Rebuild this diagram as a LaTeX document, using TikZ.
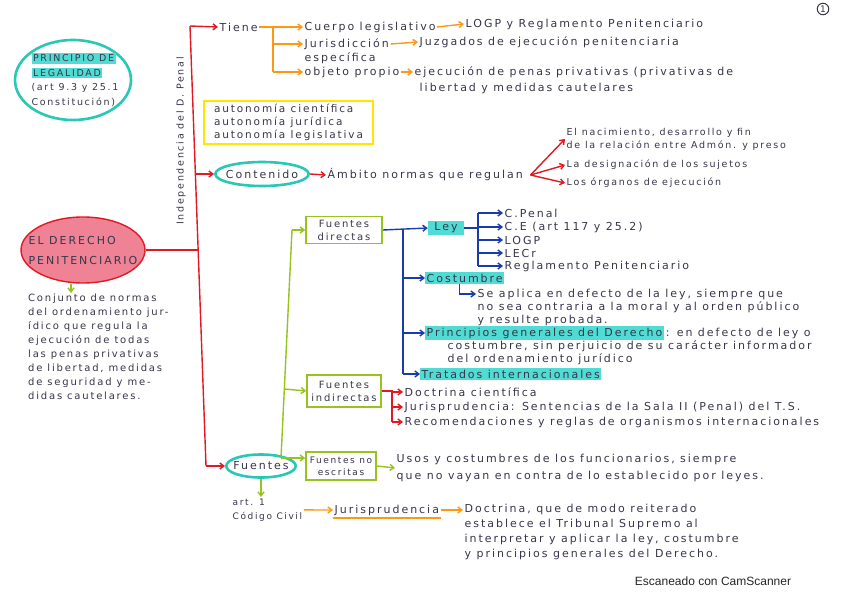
\documentclass[tikz,border=0pt]{standalone}
\usepackage{fontspec}
\usetikzlibrary{arrows.meta,shapes.geometric}
\newfontfamily\hwfont{DejaVu Sans}[LetterSpace=18]
\newfontfamily\scanfont{Liberation Sans}
\definecolor{redC}{RGB}{225,25,35}
\definecolor{pinkC}{RGB}{240,130,150}
\definecolor{orC}{RGB}{255,150,20}
\definecolor{tealC}{RGB}{40,200,180}
\definecolor{hlC}{RGB}{80,220,212}
\definecolor{yelC}{RGB}{255,230,0}
\definecolor{grC}{RGB}{150,195,30}
\definecolor{blC}{RGB}{25,60,170}
\definecolor{txC}{RGB}{55,55,75}
\setlength{\fboxsep}{1.5pt}
\tikzset{
  hw/.style={font=\hwfont\fontsize{11}{14}\selectfont, text=txC, inner sep=1.5pt, align=left},
  hws/.style={font=\hwfont\fontsize{9.5}{13}\selectfont, text=txC, inner sep=1.5pt, align=left},
  hwb/.style={font=\hwfont\fontsize{10}{13}\selectfont, text=txC, inner sep=1.5pt, align=center},
  hl/.style={fill=hlC},
  myarr/.style={-{Straight Barb[length=4pt,width=6pt]}},
  rl/.style={draw=redC, line width=1.4pt},
  ra/.style={rl, myarr},
  ol/.style={draw=orC, line width=1.4pt},
  oa/.style={ol, myarr},
  gl/.style={draw=grC, line width=1.4pt},
  ga/.style={gl, myarr},
  bll/.style={draw=blC, line width=1.4pt},
  ba/.style={bll, myarr},
  tealell/.style={ellipse, draw=tealC, line width=2.6pt},
  grbox/.style={draw=grC, line width=1.6pt, hwb},
}
\begin{document}
\begin{tikzpicture}[x=1pt,y=-1pt]
\useasboundingbox (0,0) rectangle (848,599);
\fill[white] (0,0) rectangle (848,599);

% ---- Principio de legalidad
\node[tealell, minimum width=116pt, minimum height=80pt] (princ) at (73,80) {};
\node[font=\hwfont\fontsize{9.5}{14.5}\selectfont, text=txC, align=left] (princt) at ([xshift=2pt]princ.center)
  {\colorbox{hlC}{PRINCIPIO DE}\\\colorbox{hlC}{LEGALIDAD}\\(art 9.3 y 25.1\\Constitución)};

% ---- El derecho penitenciario
\node[ellipse, draw=redC, fill=pinkC, line width=1.4pt, minimum width=124pt, minimum height=66pt] (derecho) at (83,250) {};
\node[font=\hwfont\fontsize{11}{20}\selectfont, text=txC, align=left] (derechot) at (derecho.center) {EL DERECHO\\PENITENCIARIO};
\node[font=\hwfont\fontsize{10}{14}\selectfont, text=txC, align=left, anchor=north west, inner sep=1pt] (defin) at (27,293)
  {Conjunto de normas\\del ordenamiento jur-\\ídico que regula la\\ejecución de todas\\las penas privativas\\de libertad, medidas\\de seguridad y me-\\didas cautelares.};
\draw[ga] ([xshift=-12pt]derecho.south) -- ([xshift=-12pt]derecho.south |- defin.north);

% ---- main red trunk
\coordinate (rtop) at (190,26);
\coordinate (rbot) at (206,466);
\coordinate (rc) at (195.4,174);
\coordinate (rd) at (198,250);
\draw[rl] (rtop) -- (rbot);
\draw[rl] (derecho.east) -- (rd);
\node[hws, rotate=90] (indep) at (181,141) {Independencia del D. Penal};

% ---- Tiene
\node[hw, anchor=west] (tiene) at (218,27) {Tiene};
\draw[ra] (rtop) -- (tiene.west);
\coordinate (oj) at (273,27);
\node[hw, anchor=west] (cuerpo) at (303,27) {Cuerpo legislativo};
\node[hw, anchor=west] (juri) at (303,44) {Jurisdicción};
\node[hw, anchor=west] (esp) at (303,58) {específica};
\node[hw, anchor=west] (objeto) at (303,72) {objeto propio};
\draw[ol] (tiene.east) -- (oj) -- (oj |- objeto.west);
\draw[oa] (oj |- cuerpo.west) -- (cuerpo.west);
\draw[oa] (oj |- juri.west) -- (juri.west);
\draw[oa] (oj |- objeto.west) -- (objeto.west);
\node[hw, anchor=west] (logp) at (464,24) {LOGP y Reglamento Penitenciario};
\draw[oa] (cuerpo.east) -- (logp.west);
\node[hw, anchor=west] (juzg) at (418,42) {Juzgados de ejecución penitenciaria};
\draw[oa] (juri.east) -- (juzg.west);
\node[hw, anchor=west] (ejec1) at (413,72) {ejecución de penas privativas (privativas de};
\node[hw, anchor=west] (ejec2) at (418,88) {libertad y medidas cautelares};
\draw[oa] (objeto.east) -- (ejec1.west);

% ---- yellow box
\node[draw=yelC, line width=2pt, anchor=north west, minimum width=169pt, minimum height=42pt,
      font=\hwfont\fontsize{10.5}{13}\selectfont, text=txC, align=left, inner sep=3pt] (auto) at (203,100)
  {autonomía científica\\autonomía jurídica\\autonomía legislativa};

% ---- Contenido
\node[tealell, hw, inner sep=-3pt, minimum width=76pt, minimum height=24pt] (contenido) at (262,174) {Contenido};
\draw[ra] (rc) -- (contenido.west);
\node[hw, anchor=west] (ambito) at (326,175) {Ámbito normas que regulan};
\draw[ra] (contenido.east) -- (ambito.west);
\coordinate (rsplit) at ([xshift=6pt]ambito.east);
\node[hws, anchor=west] (nac) at (565,139) {El nacimiento, desarrollo y fin\\de la relación entre Admón. y preso};
\node[hws, anchor=west] (desig) at (565,165) {La designación de los sujetos};
\node[hws, anchor=west] (org) at (565,183) {Los órganos de ejecución};
\draw[ra] (rsplit) -- (nac.west);
\draw[ra] (rsplit) -- (desig.west);
\draw[ra] (rsplit) -- (org.west);

% ---- Fuentes
\node[tealell, hw, inner sep=-3pt, minimum width=58pt, minimum height=23pt] (fuentes) at (261,466) {Fuentes};
\draw[ra] (rbot) -- (fuentes.west);

% green trunk
\coordinate (gtop) at (292,230);
\coordinate (gmid) at (284.3,389);
\coordinate (gbot) at (281,458);
\draw[gl] (gbot) -- (gtop);

% Fuentes directas
\node[grbox, minimum width=76pt, minimum height=27pt] (fdir) at (344,230) {Fuentes\\directas};
\draw[ga] (gtop) -- (fdir.west);
\node[hw, hl, minimum width=36pt] (ley) at (446,228) {Ley};
\coordinate (bj) at (403,230);
\draw[ba] (fdir.east) -- (ley.west);
\node[hw, anchor=west] (cpenal) at (503,213) {C.Penal};
\node[hw, anchor=west] (ce) at (503,227) {C.E (art 117 y 25.2)};
\node[hw, anchor=west] (logp2) at (503,240) {LOGP};
\node[hw, anchor=west] (lecr) at (503,253) {LECr};
\node[hw, anchor=west] (regl) at (503,266) {Reglamento Penitenciario};
\coordinate (lj) at (478,228);
\draw[bll] (ley.east) -- (lj);
\draw[bll] (lj |- cpenal.west) -- (lj |- regl.west);
\foreach \n in {cpenal,ce,logp2,lecr,regl} \draw[ba] (lj |- \n.west) -- (\n.west);

\node[hw, hl, anchor=west] (cost) at (425,278) {Costumbre};
\node[hw, anchor=north west, font=\hwfont\fontsize{11}{13}\selectfont] (seap) at (476,287)
  {Se aplica en defecto de la ley, siempre que\\no sea contraria a la moral y al orden público\\y resulte probada.};
\draw[ba] ([xshift=-5pt]cost.south) |- ([yshift=-7pt]seap.north west);
\node[hw, hl, anchor=west] (princg) at (425,333) {Principios generales del Derecho};
\node[hw, anchor=west] (princc) at (princg.east) {: en defecto de ley o};
\node[hw, anchor=north west, font=\hwfont\fontsize{11}{13}\selectfont] (princ2) at (446,339)
  {costumbre, sin perjuicio de su carácter informador\\del ordenamiento jurídico};
\node[hw, hl, anchor=west] (trat) at (420,374) {Tratados internacionales};
\draw[bll] (bj) -- (bj |- trat.west);
\draw[ba] (bj |- cost.west) -- (cost.west);
\draw[ba] (bj |- princg.west) -- (princg.west);
\draw[ba] (bj |- trat.west) -- (trat.west);

% Fuentes indirectas
\node[grbox, minimum width=74pt, minimum height=32pt] (findir) at (344,391) {Fuentes\\indirectas};
\draw[ga] (gmid) -- (findir.west);
\node[hw, anchor=west] (doc) at (403,392) {Doctrina científica};
\node[hw, anchor=west] (jurs) at (403,407) {Jurisprudencia: Sentencias de la Sala II (Penal) del T.S.};
\node[hw, anchor=west] (recom) at (403,422) {Recomendaciones y reglas de organismos internacionales};
\coordinate (rj) at (392,391);
\draw[rl] (findir.east) -- (rj) -- (rj |- recom.west);
\draw[ra] (rj |- doc.west) -- (doc.west);
\draw[ra] (rj |- jurs.west) -- (jurs.west);
\draw[ra] (rj |- recom.west) -- (recom.west);

% Fuentes no escritas
\node[grbox, font=\hwfont\fontsize{9}{12}\selectfont, minimum width=70pt, minimum height=28pt] (fne) at (341,466) {Fuentes no\\escritas};
\draw[ga] (gbot) -- (gbot -| fne.west);
\node[hw, anchor=west, font=\hwfont\fontsize{11}{17}\selectfont] (usos) at (395,468)
  {Usos y costumbres de los funcionarios, siempre\\que no vayan en contra de lo establecido por leyes.};
\draw[ga] (fne.east) -- (usos.west);

% art. 1 Codigo Civil
\node[hwb, align=left, font=\hwfont\fontsize{9}{14}\selectfont, anchor=north west] (art) at (231,497) {art. 1\\Código Civil};
\draw[ga] (fuentes.south) -- (fuentes.south |- art.north);
\node[hw, anchor=west] (jur) at (333,510) {Jurisprudencia};
\draw[ol] ([yshift=-1pt]jur.south west) -- ([yshift=-1pt]jur.south east);
\draw[oa] (art.east) -- (jur.west);
\node[hw, anchor=north west, font=\hwfont\fontsize{11}{15}\selectfont] (doct) at (463,502)
  {Doctrina, que de modo reiterado\\establece el Tribunal Supremo al\\interpretar y aplicar la ley, costumbre\\y principios generales del Derecho.};
\draw[oa] (jur.east) -- ([yshift=-8pt]doct.north west);

% ---- footer
\node[font=\scanfont\fontsize{12}{14}\selectfont, text=black!85] (scan) at (713,581) {Escaneado con CamScanner};
\node[circle, draw=txC, line width=1pt, inner sep=1pt, font=\hwfont\fontsize{9}{10}\selectfont, text=txC] (pg) at (823,9) {1};
\end{tikzpicture}
\end{document}
